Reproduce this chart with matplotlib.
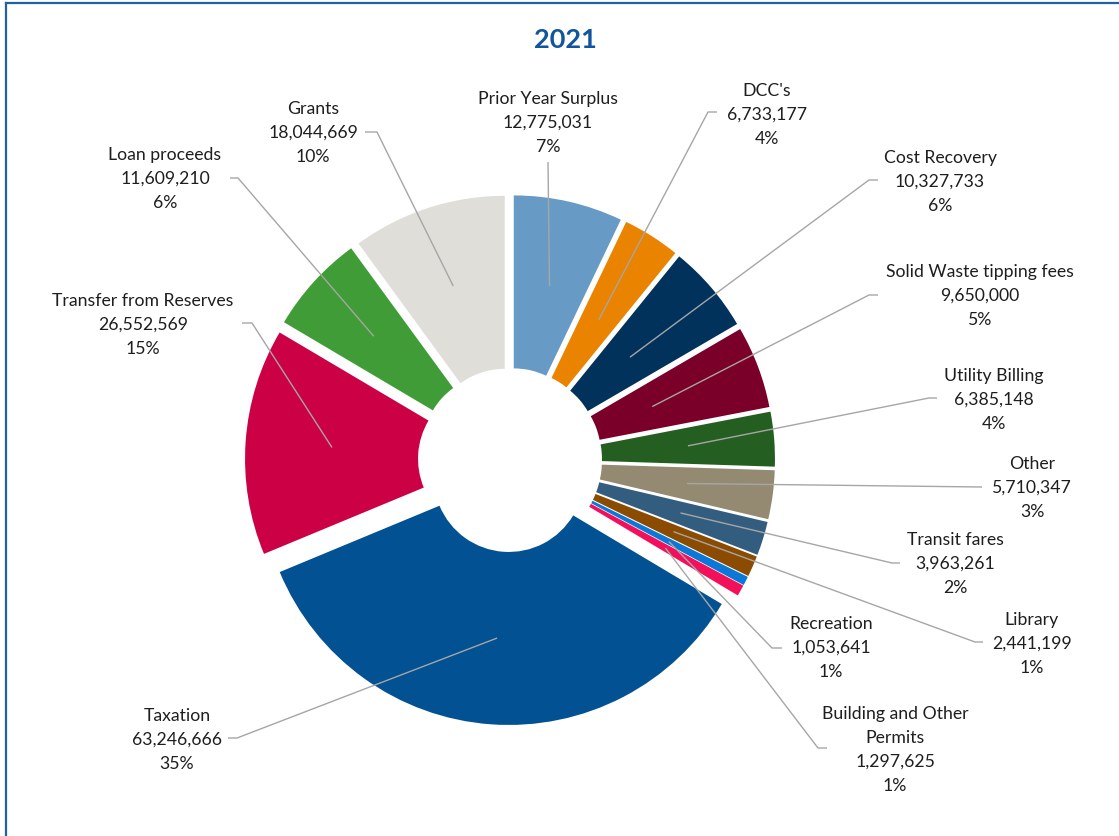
import numpy as np
import matplotlib
matplotlib.use('Agg')
import matplotlib.pyplot as plt
from matplotlib.lines import Line2D

W, H = 1119, 836

# ── Revenue sources, clockwise from 12 o'clock ────────────────────────────────
categories = ['Prior Year Surplus', "DCC's", 'Cost Recovery',
              'Solid Waste tipping fees', 'Utility Billing', 'Other',
              'Transit fares', 'Library', 'Recreation',
              'Building and Other\nPermits', 'Taxation',
              'Transfer from Reserves', 'Loan proceeds', 'Grants']
amounts = [12775031, 6733177, 10327733, 9650000, 6385148, 5710347,
           3963261, 2441199, 1053641, 1297625, 63246666,
           26552569, 11609210, 18044669]
colors = ['#679BC5', '#E98300', '#01325B', '#7B0029', '#245E20', '#948A72',
          '#335D7F', '#8B4B00', '#0B78D8', '#F2105A', '#025193',
          '#CC0044', '#409C36', '#DFDED9']

# ── Label layout (pixel coords, y down): text centre, leader path, leader radius
LAYOUT = {
    'Prior Year Surplus':          dict(txt=(548, 123), path=[(548, 162)]),
    "DCC's":                       dict(txt=(767, 115), path=[(717, 112), (708, 112)], r=149),
    'Cost Recovery':               dict(txt=(940, 182), path=[(878, 180), (869, 180)], r=141),
    'Solid Waste tipping fees':    dict(txt=(980, 296), path=[(878, 295), (869, 295)], r=135),
    'Utility Billing':             dict(txt=(994, 400), path=[(937, 398), (929, 398)]),
    'Other':                       dict(txt=(1032, 488), path=[(982, 487)]),
    'Transit fares':               dict(txt=(955, 564), path=[(900, 563), (892, 563)]),
    'Library':                     dict(txt=(1032, 644), path=[(983, 642), (975, 642)]),
    'Recreation':                  dict(txt=(831, 648), path=[(782, 648), (772, 648)]),
    'Building and Other\nPermits': dict(txt=(895, 750), path=[(827, 748), (818, 748)]),
    'Taxation':                    dict(txt=(177, 740), path=[(228, 738), (237, 738)]),
    'Transfer from Reserves':      dict(txt=(143, 325), path=[(242, 323), (252, 323)]),
    'Loan proceeds':               dict(txt=(165, 179), path=[(230, 178), (238, 178)], r=167),
    'Grants':                      dict(txt=(313, 133), path=[(365, 132), (377, 132)], r=166),
}

CX, CY = 510, 460          # donut centre
R, R_IN = 248, 75          # outer / hole radius
EXPLODE = 17

C_TEXT = '#1E1E1E'
C_LEAD = '#A6A6A6'
C_BLUE = '#11559C'

plt.rcParams['font.family'] = ['Lato', 'DejaVu Sans']


def flip(p):
    return p[0], H - p[1]


fig = plt.figure(figsize=(W / 100, H / 100), dpi=100)
ax = fig.add_axes([0, 0, 1, 1])

wedges, _ = ax.pie(amounts, colors=colors, startangle=90, counterclock=False,
                   radius=R, center=(CX, H - CY),
                   explode=[EXPLODE] * len(amounts),
                   wedgeprops=dict(width=R - R_IN, linewidth=0))

ax.set_xlim(0, W)
ax.set_ylim(0, H)
ax.set_aspect('equal')
ax.axis('off')

total = sum(amounts)
for w, name, val in zip(wedges, categories, amounts):
    lay = LAYOUT[name]
    mid = np.deg2rad((w.theta1 + w.theta2) / 2)
    rl = lay.get('r', (R + R_IN) / 2)
    px = w.center[0] + rl * np.cos(mid)
    py = w.center[1] + rl * np.sin(mid)

    pts = [flip(p) for p in lay['path']] + [(px, py)]
    xs, ys = zip(*pts)
    ax.plot(xs, ys, color=C_LEAD, lw=1.0, zorder=3, solid_capstyle='butt')

    tx, ty = flip(lay['txt'])
    ax.text(tx, ty, f'{name}\n{val:,}\n{val / total * 100:.0f}%',
            ha='center', va='center', fontsize=12.7, color=C_TEXT,
            linespacing=1.62, zorder=4)

ax.text(565, H - 40, '2021', ha='center', va='center', fontsize=19.5,
        fontweight='bold', color=C_BLUE)

# chart frame (left and top edges)
fig.add_artist(Line2D([6 / W, 6 / W], [0, 1 - 2.5 / H], color='#1F60AA', lw=1.6,
                      transform=fig.transFigure))
fig.add_artist(Line2D([6 / W, 1], [1 - 2.5 / H, 1 - 2.5 / H], color='#1F60AA', lw=1.6,
                      transform=fig.transFigure))

fig.savefig('out.png', dpi=100, facecolor='white')
